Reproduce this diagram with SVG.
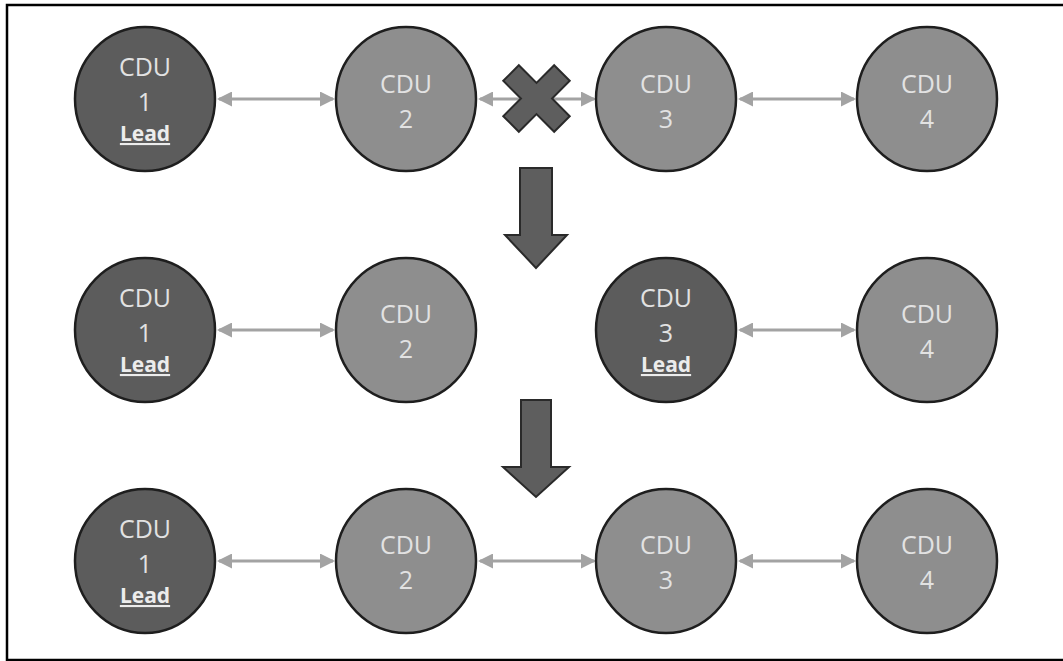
<svg xmlns="http://www.w3.org/2000/svg" width="1063" height="661" viewBox="0 0 1063 661">
<style>
.dark{fill:#5c5c5c;stroke:#1e1e1e;stroke-width:2.5}
.light{fill:#8e8e8e;stroke:#1e1e1e;stroke-width:2.5}
.t{font-family:"Open Sans","Liberation Sans",sans-serif;font-size:25px;fill:#e2e2e2;text-anchor:middle}
.lead{font-family:"Open Sans","Liberation Sans",sans-serif;font-size:21px;font-weight:bold;fill:#ececec;text-anchor:middle;text-decoration:underline}
.conn{stroke:#a3a3a3;stroke-width:3;fill:none;marker-start:url(#ah);marker-end:url(#ah)}
.shape{fill:#5e5e5e;stroke:#2a2a2a;stroke-width:2}
</style>
<defs>
<marker id="ah" viewBox="0 0 15 15" refX="13" refY="7.5" markerWidth="15" markerHeight="15" markerUnits="userSpaceOnUse" orient="auto-start-reverse">
<path d="M0,0 L15,7.5 L0,15 Z" fill="#a3a3a3"/>
</marker>
</defs>
<rect x="7" y="5" width="1062" height="655" fill="#ffffff" stroke="#000000" stroke-width="2.5"/>

<g id="connectors">
<line class="conn" x1="219" y1="99" x2="333" y2="99"/>
<line class="conn" x1="480" y1="99" x2="594" y2="99"/>
<line class="conn" x1="740" y1="99" x2="854" y2="99"/>
<line class="conn" x1="219" y1="330" x2="333" y2="330"/>
<line class="conn" x1="740" y1="330" x2="854" y2="330"/>
<line class="conn" x1="219" y1="561" x2="333" y2="561"/>
<line class="conn" x1="480" y1="561" x2="594" y2="561"/>
<line class="conn" x1="740" y1="561" x2="854" y2="561"/>
</g>

<g id="cross">
<polygon class="shape" transform="translate(536.5,98.5) rotate(45)" points="-11,-36 11,-36 11,-11 36,-11 36,11 11,11 11,36 -11,36 -11,11 -36,11 -36,-11 -11,-11"/>
</g>
<g id="arrow1">
<polygon class="shape" points="520,168 552,168 552,235 567,235 536,268 505,235 520,235"/>
</g>
<g id="arrow2">
<polygon class="shape" points="521,400 551,400 551,467 569,467 536,497 503,467 521,467"/>
</g>

<g id="r1-cdu1"><ellipse class="dark" cx="145" cy="99" rx="70" ry="72"/>
<text class="t" x="145" y="76">CDU</text><text class="t" x="145" y="111">1</text><text class="lead" x="145" y="141">Lead</text></g>
<g id="r1-cdu2"><ellipse class="light" cx="406" cy="99" rx="70" ry="72"/>
<text class="t" x="406" y="93">CDU</text><text class="t" x="406" y="128">2</text></g>
<g id="r1-cdu3"><ellipse class="light" cx="666" cy="99" rx="70" ry="72"/>
<text class="t" x="666" y="93">CDU</text><text class="t" x="666" y="128">3</text></g>
<g id="r1-cdu4"><ellipse class="light" cx="927" cy="99" rx="70" ry="72"/>
<text class="t" x="927" y="93">CDU</text><text class="t" x="927" y="128">4</text></g>

<g id="r2-cdu1"><ellipse class="dark" cx="145" cy="330" rx="70" ry="72"/>
<text class="t" x="145" y="307">CDU</text><text class="t" x="145" y="342">1</text><text class="lead" x="145" y="372">Lead</text></g>
<g id="r2-cdu2"><ellipse class="light" cx="406" cy="330" rx="70" ry="72"/>
<text class="t" x="406" y="323">CDU</text><text class="t" x="406" y="358">2</text></g>
<g id="r2-cdu3"><ellipse class="dark" cx="666" cy="330" rx="70" ry="72"/>
<text class="t" x="666" y="307">CDU</text><text class="t" x="666" y="342">3</text><text class="lead" x="666" y="372">Lead</text></g>
<g id="r2-cdu4"><ellipse class="light" cx="927" cy="330" rx="70" ry="72"/>
<text class="t" x="927" y="323">CDU</text><text class="t" x="927" y="358">4</text></g>

<g id="r3-cdu1"><ellipse class="dark" cx="145" cy="561" rx="70" ry="72"/>
<text class="t" x="145" y="538">CDU</text><text class="t" x="145" y="573">1</text><text class="lead" x="145" y="603">Lead</text></g>
<g id="r3-cdu2"><ellipse class="light" cx="406" cy="561" rx="70" ry="72"/>
<text class="t" x="406" y="554">CDU</text><text class="t" x="406" y="589">2</text></g>
<g id="r3-cdu3"><ellipse class="light" cx="666" cy="561" rx="70" ry="72"/>
<text class="t" x="666" y="554">CDU</text><text class="t" x="666" y="589">3</text></g>
<g id="r3-cdu4"><ellipse class="light" cx="927" cy="561" rx="70" ry="72"/>
<text class="t" x="927" y="554">CDU</text><text class="t" x="927" y="589">4</text></g>
</svg>
